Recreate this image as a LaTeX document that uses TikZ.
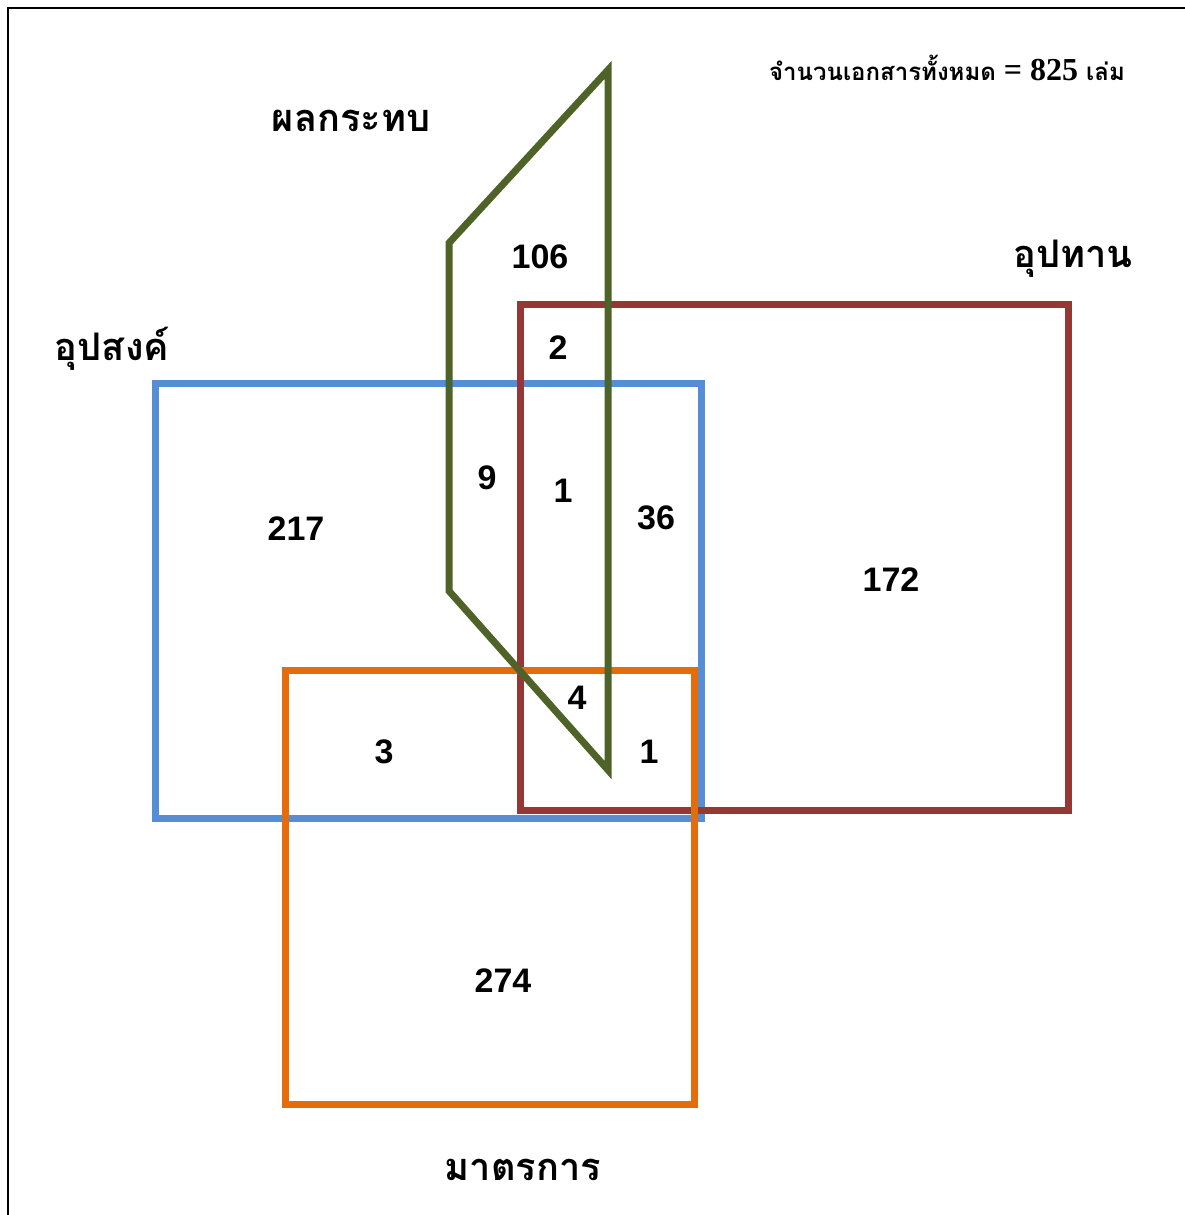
\documentclass[tikz,border=0pt]{standalone}
\usepackage{fontspec}
\setmainfont{Liberation Sans}
\newfontfamily\thaifont[Script=Thai]{Loma}
\newfontfamily\serifnum{Liberation Serif}
\definecolor{cblue}{HTML}{558ED5}
\definecolor{cred}{HTML}{953735}
\definecolor{corange}{HTML}{E46C0A}
\definecolor{cgreen}{HTML}{4F6228}
\begin{document}
\begin{tikzpicture}[x=1pt,y=-1pt,
  setbox/.style={line width=7pt},
  num/.style={font=\fontsize{34}{36}\selectfont\bfseries, inner sep=0pt},
  ttl/.style={font=\thaifont\fontsize{38}{42}\selectfont\bfseries, inner sep=0pt}]
\useasboundingbox (0,0) rectangle (1185,1215);
\fill[white] (0,0) rectangle (1185,1215);
\draw[line width=2pt] (8,1215) -- (8,8) -- (1185,8);
% sets
\draw[setbox, cblue] (155,383) rectangle (701,818);
\draw[setbox, cred] (520,304) rectangle (1068,810);
\draw[setbox, corange] (285,670) rectangle (694,1104);
\draw[setbox, cgreen, line join=miter] (608,70) -- (449,243) -- (449,591) -- (608,770) -- cycle;
% counts
\node[num] (n106) at (540,257) {106};
\node[num] (n2) at (558,348) {2};
\node[num] (n9) at (487,478) {9};
\node[num] (n1a) at (563,491) {1};
\node[num] (n36) at (656,518) {36};
\node[num] (n217) at (296,529) {217};
\node[num] (n172) at (891,580) {172};
\node[num] (n4) at (577,698) {4};
\node[num] (n3) at (384,752) {3};
\node[num] (n1b) at (649,752) {1};
\node[num] (n274) at (503,981) {274};
% titles
\node[ttl] (timpact) at (351,121) {ผลกระทบ};
\node[ttl] (tsupply) at (1073,259) {อุปทาน};
\node[ttl] (tdemand) at (112,349) {อุปสงค์};
\node[ttl] (tmeasure) at (523,1170) {มาตรการ};
\node[inner sep=0pt] (total) at (947,68) {\thaifont\fontsize{24}{28}\selectfont\bfseries จำนวนเอกสารทั้งหมด \serifnum\fontsize{32}{34}\selectfont\bfseries = 825 \thaifont\fontsize{24}{28}\selectfont\bfseries เล่ม};
\end{tikzpicture}
\end{document}
